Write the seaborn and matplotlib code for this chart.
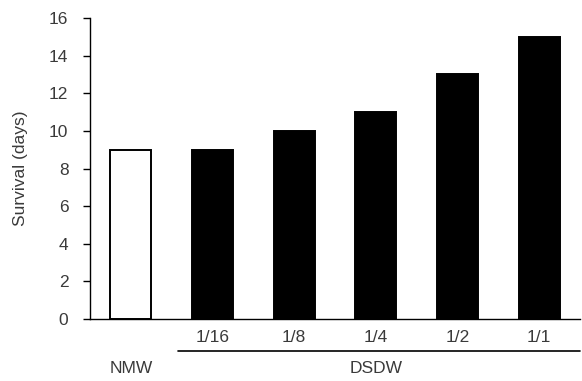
import matplotlib
matplotlib.use("Agg")
import matplotlib.pyplot as plt
import matplotlib.transforms as mtransforms
import seaborn as sns
import pandas as pd

categories = ["NMW", "1/16", "1/8", "1/4", "1/2", "1/1"]
survival = [9, 9, 10, 11, 13, 15]
tick_labels = ["", "1/16", "1/8", "1/4", "1/2", "1/1"]
fills = ["white", "black", "black", "black", "black", "black"]
group_labels = ["NMW", "DSDW"]
yticks = [0, 2, 4, 6, 8, 10, 12, 14, 16]

sns.set_style("white")
plt.rcParams["font.family"] = ["Liberation Sans", "DejaVu Sans"]

df = pd.DataFrame({"cat": categories, "val": survival})
fig = plt.figure(figsize=(5.82, 3.81), dpi=100)
ax = fig.add_axes([0.1546, 0.1627, 0.842, 0.79])
sns.barplot(data=df, x="cat", y="val", hue="cat", palette=fills, legend=False,
            edgecolor="black", linewidth=1.4, width=0.5, ax=ax, order=categories)

txtc = "#3a3a3a"
fs = 12.5
ax.set_xlim(-0.5, 5.5)
ax.set_ylim(0, 16)
ax.set_yticks(yticks)
ax.set_yticklabels([str(v) for v in yticks], fontsize=fs, color=txtc)
ax.set_xticks(range(len(categories)))
ax.set_xticklabels(tick_labels, fontsize=fs, color=txtc)
ax.tick_params(axis="x", length=0, pad=8)
ax.tick_params(axis="y", length=5, width=1, direction="out", left=True, pad=10.5,
               color="black", labelcolor=txtc)
ax.set_xlabel("")
ax.set_ylabel("Survival (days)", fontsize=fs, color=txtc, labelpad=15)
for s in ["top", "right"]:
    ax.spines[s].set_visible(False)
for s in ["left", "bottom"]:
    ax.spines[s].set_color("black")
    ax.spines[s].set_linewidth(1)

trans = mtransforms.blended_transform_factory(ax.transData, ax.transAxes)
ax.plot([0.58, 5.5], [-0.106, -0.106], color="black", lw=1.2, transform=trans, clip_on=False)
ax.text(0, -0.166, group_labels[0], transform=trans, ha="center", va="center", fontsize=fs, color=txtc)
ax.text(3.0, -0.166, group_labels[1], transform=trans, ha="center", va="center", fontsize=fs, color=txtc)

fig.savefig("out.png", dpi=100)
